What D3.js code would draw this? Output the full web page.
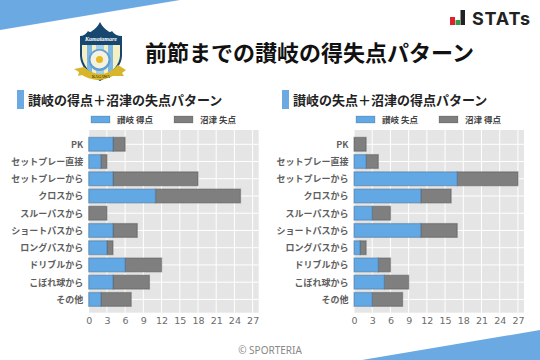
<!DOCTYPE html>
<html>
<head>
<meta charset="utf-8">
<script src="https://cdn.jsdelivr.net/npm/d3@7"></script>
<style>
  html, body { margin: 0; padding: 0; background: #fff; }
  svg { display: block; }
  text { font-family: "Noto Sans CJK JP", sans-serif; }
</style>
</head>
<body>
<div id="chart"></div>
<script>
const categories = ["PK", "セットプレー直接", "セットプレーから", "クロスから", "スルーパスから", "ショートパスから", "ロングパスから", "ドリブルから", "こぼれ球から", "その他"];
const xTicks = [0, 3, 6, 9, 12, 15, 18, 21, 24, 27];

// 左 : 讃岐の得点 + 沼津の失点
const sanukiGoals = [4, 2, 4, 11, 0, 4, 3, 6, 4, 2];
const numazuConceded = [2, 1, 14, 14, 3, 4, 1, 6, 6, 5];

// 右 : 讃岐の失点 + 沼津の得点
const sanukiConceded = [0, 2, 17, 11, 3, 11, 1, 4, 5, 3];
const numazuGoals = [2, 2, 10, 5, 3, 6, 1, 2, 4, 5];

const blue = "#62a8e5";
const grey = "#7f7f7f";
const cornerBlue = "#6aa9e2";

const svg = d3.select("#chart").append("svg").attr("width", 540).attr("height", 360);

// 背景の三角
svg.append("path").attr("d", "M0,0H180L0,30Z").attr("fill", cornerBlue);
svg.append("path").attr("d", "M540,330V360H362Z").attr("fill", cornerBlue);

// タイトル
svg.append("text")
  .attr("x", 145).attr("y", 61)
  .attr("font-size", 22).attr("font-weight", 700).attr("fill", "#111")
  .text("前節までの讃岐の得失点パターン");

// エンブレム
const logo = svg.append("g");
logo.append("path")
  .attr("d", "M80,36 Q85,36 88,31 Q90,33 92,31 Q97,28 100,22 Q103,28 108,31 Q110,33 112,31 Q115,36 122,36 L122,56 Q121,71 100,81 Q81,71 80,56 Z")
  .attr("fill", "#17476f");
logo.append("path").attr("d", "M82,45 H120 V56 Q119,69 100,79 Q83,69 82,56 Z").attr("fill", "#f4f0c4");
logo.append("path").attr("d", "M87,45 H92 V74 L87,69 Z M108,45 H113 V74 L108,74 Z").attr("fill", "#7db7e3");
logo.append("path").attr("d", "M96,45 H104 V79 H96 Z").attr("fill", "#a5cdea");
logo.append("circle").attr("cx", 99.500).attr("cy", 60).attr("r", 11).attr("fill", "#5f9fd4");
logo.append("circle").attr("cx", 99.500).attr("cy", 59.500).attr("r", 9).attr("fill", "#f4f1de");
logo.append("circle").attr("cx", 99.500).attr("cy", 59.500).attr("r", 3.500).attr("fill", "#e8b820");
logo.append("path").attr("d", "M74,69 L84,67 Q92,74 100,74 Q110,74 118,65 L126,70 L122,73 L124,76 L113,76 Q105,80 97,80 Q88,79 82,75 L78,76 L79,72 Z").attr("fill", "#d8b62c");
logo.append("text").attr("x", 101).attr("y", 41).attr("text-anchor", "middle")
  .attr("font-size", 6).attr("font-style", "italic").attr("font-weight", 700).attr("fill", "#fff")
  .style("font-family", "'Liberation Serif', serif").text("Kamatamare");
logo.append("text").attr("x", 101).attr("y", 78).attr("text-anchor", "middle")
  .attr("font-size", 4).attr("font-weight", 700).attr("fill", "#5a4a10")
  .style("font-family", "'Liberation Serif', serif").text("KAGAWA");

// STATs ロゴ
const statsLogo = svg.append("g");
[
  { x: 450, y: 17, w: 5, h: 8, c: "#e0202a" },
  { x: 455.500, y: 20, w: 4.500, h: 5, c: "#2e9e4a" },
  { x: 460.500, y: 10, w: 4.500, h: 15, c: "#222" },
].forEach(b => statsLogo.append("rect").attr("x", b.x).attr("y", b.y).attr("width", b.w).attr("height", b.h).attr("fill", b.c));
statsLogo.append("text").attr("x", 472).attr("y", 24.500)
  .attr("font-size", 18).attr("font-weight", 700).attr("fill", "#222")
  .attr("letter-spacing", 0.800)
  .style("font-family", "Inter, sans-serif").text("STATs");

// クレジット
svg.append("text").attr("x", 270).attr("y", 354).attr("text-anchor", "middle")
  .attr("font-size", 10).attr("fill", "#888")
  .style("font-family", "'Noto Sans', sans-serif").text("© SPORTERIA");

function drawPanel(cfg) {
  const g = svg.append("g");
  const plot = { top: 130, bottom: 312.700, width: 170 };

  // 見出し
  g.append("rect").attr("x", cfg.accentX).attr("y", 90).attr("width", 7).attr("height", 19).attr("fill", cornerBlue);
  g.append("text").attr("x", cfg.accentX + 11).attr("y", 104.500)
    .attr("font-size", 13).attr("font-weight", 700).attr("fill", "#222")
    .text(cfg.heading);

  // 凡例
  cfg.legend.forEach(d => {
    g.append("rect").attr("x", d.x).attr("y", 116).attr("width", 19).attr("height", 7)
      .attr("fill", d.col).attr("stroke", "#000").attr("stroke-opacity", 0.15);
    g.append("text").attr("x", d.x + 26).attr("y", 123)
      .attr("font-size", 8.500).attr("font-weight", 700).attr("fill", "#444").text(d.label);
  });

  const scaleX = d3.scaleLinear().domain([0, 28]).range([cfg.x0, cfg.x0 + plot.width]);
  const scaleY = d3.scaleBand().domain(categories).range([plot.top + 0.5, plot.bottom + 0.5]).paddingInner(0.2).paddingOuter(0.4);

  // パネル
  g.append("rect").attr("x", cfg.x0).attr("y", plot.top).attr("width", plot.width).attr("height", plot.bottom - plot.top).attr("fill", "#e5e5e5");

  // 格子
  g.append("g").selectAll("line").data(xTicks).join("line")
    .attr("x1", d => scaleX(d)).attr("x2", d => scaleX(d))
    .attr("y1", plot.top).attr("y2", plot.bottom)
    .attr("stroke", "#fff").attr("stroke-width", 1);
  g.append("g").selectAll("line").data(categories).join("line")
    .attr("x1", cfg.x0).attr("x2", cfg.x0 + plot.width)
    .attr("y1", d => scaleY(d) + scaleY.bandwidth() / 2).attr("y2", d => scaleY(d) + scaleY.bandwidth() / 2)
    .attr("stroke", "#fff").attr("stroke-width", 1);

  // 棒
  const rows = categories.map((c, i) => ({ c, a: cfg.first[i], b: cfg.second[i] }));
  g.append("g").selectAll("rect").data(rows).join("rect")
    .attr("x", d => scaleX(d.a)).attr("y", d => scaleY(d.c))
    .attr("width", d => scaleX(d.a + d.b) - scaleX(d.a)).attr("height", scaleY.bandwidth())
    .attr("fill", grey).attr("stroke", "#555").attr("stroke-opacity", 0.45).attr("stroke-width", 1.300);
  g.append("g").selectAll("rect").data(rows.filter(d => d.a > 0)).join("rect")
    .attr("x", scaleX(0)).attr("y", d => scaleY(d.c))
    .attr("width", d => scaleX(d.a) - scaleX(0)).attr("height", scaleY.bandwidth())
    .attr("fill", blue).attr("stroke", "#4a6f90").attr("stroke-opacity", 0.45).attr("stroke-width", 1.300);

  // 軸
  g.append("g")
    .attr("transform", `translate(0, ${plot.bottom})`)
    .call(d3.axisBottom(scaleX).tickValues(xTicks).tickSize(0).tickPadding(5))
    .call(a => a.select(".domain").remove())
    .selectAll("text")
    .style("font-family", "'DejaVu Sans', sans-serif")
    .style("font-size", "9.5px")
    .style("fill", "#6b6b6b");

  g.append("g")
    .attr("transform", `translate(${cfg.x0}, 0.5)`)
    .call(d3.axisLeft(scaleY).tickSize(0).tickPadding(5.500))
    .call(a => a.select(".domain").remove())
    .selectAll("text")
    .style("font-family", "'Noto Sans CJK JP', sans-serif")
    .style("font-size", "9px")
    .style("font-weight", 700)
    .style("fill", "#5e5e5e");
}

drawPanel({
  accentX: 17, x0: 88.700,
  heading: "讃岐の得点＋沼津の失点パターン",
  legend: [{ x: 91, col: blue, label: "讃岐 得点" }, { x: 174, col: grey, label: "沼津 失点" }],
  first: sanukiGoals, second: numazuConceded,
});
drawPanel({
  accentX: 282, x0: 354,
  heading: "讃岐の失点＋沼津の得点パターン",
  legend: [{ x: 356, col: blue, label: "讃岐 失点" }, { x: 439, col: grey, label: "沼津 得点" }],
  first: sanukiConceded, second: numazuGoals,
});
</script>
</body>
</html>
